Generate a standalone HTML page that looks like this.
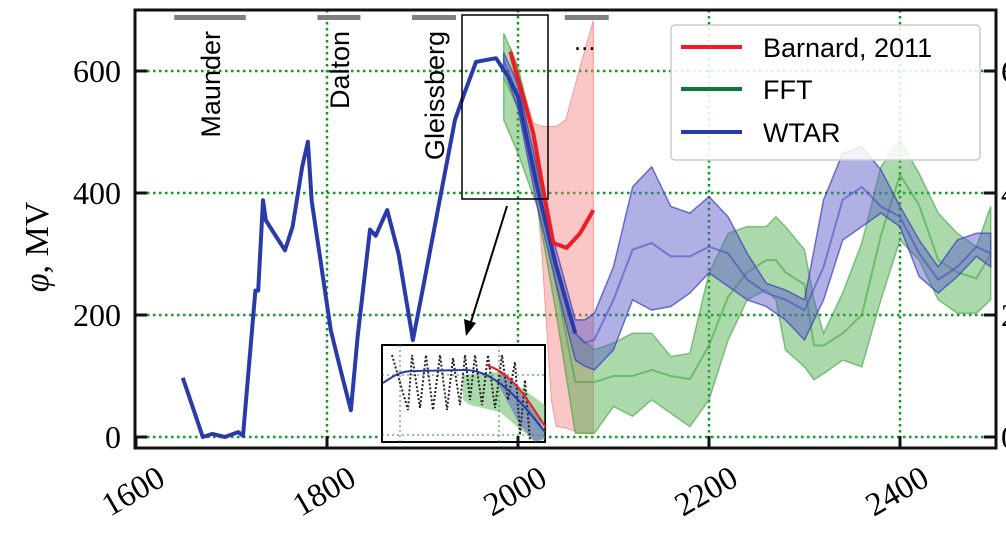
<!DOCTYPE html>
<html><head><meta charset="utf-8">
<style>
html,body{margin:0;padding:0;background:#fff;overflow:hidden}
svg{display:block}
</style></head>
<body>
<svg id="chart" width="1006" height="537" xmlns="http://www.w3.org/2000/svg"></svg>
<script>
// ---- data ----
const histYears = [1649,1670,1680,1693,1707,1712,1725,1728,1733,1736,1756,1764,1774,1780,1784,1804,1815,1825,1832,1845,1851,1863,1875,1890,1900,1916,1934,1943,1956,1977,1990,2000,2020,2040,2060];
const histVals  = [97,0,5,0,8,2,240,240,388,355,306,345,443,484,387,175,105,44,164,340,330,372,300,159,240,372,520,560,615,621,590,558,410,280,170];

const wtarYears = [1985,2000,2020,2040,2060,2070,2080,2100,2120,2140,2160,2180,2200,2220,2240,2260,2280,2300,2320,2340,2360,2380,2400,2420,2440,2460,2480,2495];
const wtarMid   = [618,558,410,280,170,154,160,225,307,318,296,296,312,301,258,236,225,208,279,389,410,378,361,301,258,279,312,301];
const wtarHi    = [630,578,440,307,192,192,203,279,410,443,378,367,394,361,301,252,241,225,389,465,476,438,378,323,279,323,334,334];
const wtarLo    = [605,538,380,250,126,116,110,143,225,208,214,236,269,247,225,214,192,159,225,323,345,367,345,263,236,263,296,279];

const fftYears = [1985,2000,2020,2040,2060,2080,2100,2120,2140,2160,2180,2200,2220,2240,2260,2270,2280,2300,2310,2320,2340,2360,2380,2400,2420,2440,2460,2480,2495];
const fftMid   = [590,540,430,250,90,90,100,100,110,100,95,150,230,270,290,290,270,250,150,150,170,200,330,430,380,290,270,260,300];
const fftHi    = [662,607,476,280,170,143,154,170,170,132,137,269,334,345,345,361,345,307,225,170,236,318,443,487,432,367,334,312,378];
const fftLo    = [520,465,378,203,6,6,50,34,61,39,17,61,159,225,241,225,143,115,94,104,126,115,225,323,290,225,203,203,225];

const barYears = [1992,2016,2027,2037,2051,2065,2079];
const barVals  = [632,498,400,318,310,334,372];
const barBandYears = [1992,2016,2025,2035,2040,2050,2065,2079];
const barBandHi = [640,515,509,509,509,520,607,683];
const barBandLo = [620,470,300,60,17,15,6,5];

const yTicks = [0,200,400,600];
const xTicks = [1600,1800,2000,2200,2400];
const minima = [
  {name:"Maunder", start:1640, end:1715},
  {name:"Dalton", start:1790, end:1835},
  {name:"Gleissberg", start:1889, end:1935},
  {name:"...", start:2049, end:2095}
];

// ---- axes ----
const X0=136, PX_PER_YEAR=191/200, Y0=437, PX_PER_VAL=122/200;
const xs = y => X0 + (y-1600)*PX_PER_YEAR;
const ys = v => Y0 - v*PX_PER_VAL;
const L=135,T=10,R=996,B=448;
const NS="http://www.w3.org/2000/svg";
const svg=document.getElementById('chart');
function mk(tag,attrs,parent){const e=document.createElementNS(NS,tag);for(const k in attrs)e.setAttribute(k,attrs[k]);(parent||svg).appendChild(e);return e;}

const defs=mk('defs',{});
const cp=mk('clipPath',{id:'plotclip'},defs);
mk('rect',{x:L,y:T,width:R-L,height:B-T},cp);

// grid
const grid=mk('g',{});


yTicks.forEach(v=>{const l=mk('line',{x1:L,x2:R,y1:ys(v),y2:ys(v),stroke:'#0f9a20','stroke-width':2.5,'stroke-dasharray':'2.5,3.5'},grid);

});
xTicks.slice(1).forEach(v=>{const l=mk('line',{x1:xs(v),x2:xs(v),y1:T,y2:B,stroke:'#0f9a20','stroke-width':2.5,'stroke-dasharray':'2.5,3.5'},grid);

});

const plot=mk('g',{'clip-path':'url(#plotclip)'});



function linePath(xa,va){return xa.map((x,i)=>(i?'L':'M')+xs(x).toFixed(1)+','+ys(va[i]).toFixed(1)).join(' ');}
function bandPath(xa,hi,lo){let d=linePath(xa,hi);for(let i=xa.length-1;i>=0;i--)d+=' L'+xs(xa[i]).toFixed(1)+','+ys(lo[i]).toFixed(1);return d+' Z';}

// bands
const rb=mk('path',{d:bandPath(barBandYears,barBandHi,barBandLo),fill:'rgba(245,120,120,0.42)',stroke:'rgba(240,110,110,0.6)','stroke-width':1},plot);


const gb=mk('path',{d:bandPath(fftYears,fftHi,fftLo),fill:'rgba(70,170,70,0.45)',stroke:'rgba(60,160,60,0.6)','stroke-width':1.5},plot);


const gm=mk('path',{d:linePath(fftYears,fftMid),fill:'none',stroke:'rgba(60,160,60,0.55)','stroke-width':2},plot);


const bb=mk('path',{d:bandPath(wtarYears,wtarHi,wtarLo),fill:'rgba(90,90,200,0.48)',stroke:'rgba(60,60,190,0.7)','stroke-width':1.5},plot);


const bm=mk('path',{d:linePath(wtarYears,wtarMid),fill:'none',stroke:'rgba(70,70,190,0.55)','stroke-width':2},plot);


const hl=mk('path',{d:linePath(histYears,histVals),fill:'none',stroke:'#2a3aa8','stroke-width':4,'stroke-linejoin':'round'},plot);


const rl=mk('path',{d:linePath(barYears,barVals),fill:'none',stroke:'#ee1c24','stroke-width':4,'stroke-linejoin':'round'},plot);



// minima bars and labels
minima.forEach(m=>{
  const r=mk('rect',{x:xs(m.start),y:15,width:xs(m.end)-xs(m.start),height:5,fill:'#808080'});
  
  
  const cx=(xs(m.start)+xs(m.end))/2;
  let t;
  if(m.name==='...'){t=mk('text',{x:cx-2,y:50,'font-size':26,'font-family':'Liberation Sans, sans-serif','text-anchor':'middle'});}
  else{t=mk('text',{x:0,y:0,transform:`translate(${cx+10},31) rotate(-90)`,'font-size':27,'font-family':'Liberation Sans, sans-serif','text-anchor':'end'});}
  t.textContent=m.name;
  
  
});

// zoom box and arrow
const zb=mk('rect',{x:462,y:15,width:86,height:184,fill:'none',stroke:'#000','stroke-width':1.5});


const ar=mk('line',{x1:507,y1:206,x2:470,y2:325,stroke:'#000','stroke-width':2});


const ah=mk('polygon',{points:'466,336 464,319 476,323',fill:'#000'});



// inset
const ins=mk('g',{});


mk('rect',{x:382,y:345,width:163,height:97,fill:'#fff',stroke:'#000','stroke-width':2},ins);
mk('line',{x1:382,x2:545,y1:375,y2:375,stroke:'#1a9a2a','stroke-width':1,'stroke-dasharray':'2,3'},ins);
mk('line',{x1:382,x2:545,y1:435,y2:435,stroke:'#1a9a2a','stroke-width':1,'stroke-dasharray':'2,3'},ins);
mk('line',{x1:400,x2:400,y1:345,y2:442,stroke:'#1a9a2a','stroke-width':1,'stroke-dasharray':'2,3'},ins);
mk('line',{x1:499,x2:499,y1:345,y2:442,stroke:'#1a9a2a','stroke-width':1,'stroke-dasharray':'2,3'},ins);
mk('path',{d:'M463,400 L463,375 L500,372 L545,405 L545,440 L535,442 L500,412 L470,405 Z',fill:'rgba(70,170,70,0.45)'},ins);
mk('path',{d:'M500,372 L510,378 L540,420 L545,438 L535,442 L520,425 L500,388 Z',fill:'rgba(90,90,200,0.5)'},ins);
mk('path',{d:'M392,355 L408,410 L412,355 L420,408 L426,355 L433,410 L440,355 L447,410 L453,358 L460,405 L465,355 L470,400 L475,355 L482,405 L488,355 L495,408 L502,355 L508,400 L515,362 L520,435 L525,380 L530,440',fill:'none',stroke:'#222','stroke-width':2,'stroke-dasharray':'2,2'},ins);
mk('path',{d:'M383,383 C395,375 400,371 415,371 L465,370 C495,370 520,400 545,432',fill:'none',stroke:'#2a3aa8','stroke-width':2},ins);
mk('path',{d:'M488,366 C510,372 525,395 546,428',fill:'none',stroke:'#ee1c24','stroke-width':2},ins);

// axes frame
const fr=mk('rect',{x:L,y:T,width:R-L,height:B-T,fill:'none',stroke:'#111','stroke-width':3});



// y ticks
yTicks.forEach(v=>{
  mk('line',{x1:L,x2:L+12,y1:ys(v),y2:ys(v),stroke:'#111','stroke-width':3});
  mk('line',{x1:R-12,x2:R,y1:ys(v),y2:ys(v),stroke:'#111','stroke-width':3});
  const t=mk('text',{x:121,y:ys(v)+11,'font-size':32,'font-family':'Liberation Serif, serif','text-anchor':'end'});
  t.textContent=v;
  
  
  const t2=mk('text',{x:1001,y:ys(v)+11,'font-size':32,'font-family':'Liberation Serif, serif'});
  t2.textContent=String(v)[0];
  
  
});
// x ticks
xTicks.forEach(v=>{
  mk('line',{x1:xs(v),x2:xs(v),y1:B,y2:B-12,stroke:'#111','stroke-width':3});
  const t=mk('text',{x:0,y:0,transform:`translate(${xs(v)+31},484) rotate(-30)`,'font-size':33,'font-family':'Liberation Serif, serif','text-anchor':'end'});
  t.textContent=v;
  
  
});
const yl=mk('text',{x:0,y:0,transform:'translate(48,247) rotate(-90)','font-size':34,'font-family':'Liberation Serif, serif','text-anchor':'middle'});
yl.innerHTML='<tspan font-style="italic">φ</tspan>, MV';



// legend
const lg=mk('g',{});


mk('rect',{x:671,y:25,width:309,height:135,rx:4,fill:'rgba(255,255,255,0.85)',stroke:'#ccc','stroke-width':1.5},lg);
[['Barnard, 2011','#ee1c24',47],['FFT','#0a7a3a',89],['WTAR','#2a3aa8',132]].forEach(e=>{
  const l=mk('line',{x1:681,x2:742,y1:e[2],y2:e[2],stroke:e[1],'stroke-width':4},lg);
  
  
  const t=mk('text',{x:763,y:e[2]+10,'font-size':27,'font-family':'Liberation Sans, sans-serif'},lg);
  t.textContent=e[0];
  
  
});
</script>
</body></html>
